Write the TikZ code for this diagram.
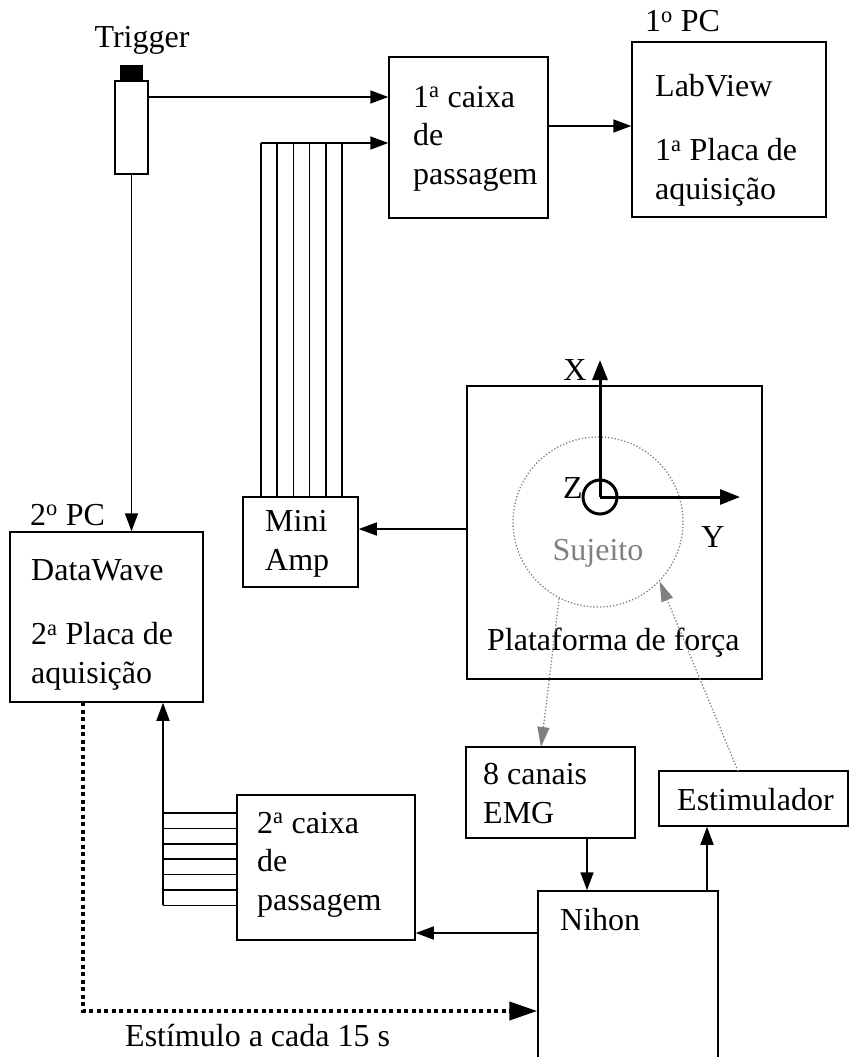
\documentclass[tikz,border=0pt]{standalone}
\usepackage{fontspec}
\setmainfont{Liberation Serif}
\usetikzlibrary{positioning,arrows.meta}

\begin{document}
\begin{tikzpicture}[x=1pt,y=-1pt,
  every node/.style={font=\fontsize{32}{38.5}\selectfont},
  box/.style={draw,line width=1.5pt,inner sep=0pt},
  txt/.style={inner sep=0pt,anchor=base west,align=left},
  arr/.style={line width=1.6pt,-{Triangle[length=18pt,width=13pt]}},
  garr/.style={gray,dotted,line width=1.3pt,-{Triangle[length=20pt,width=12pt]}},
  axis/.style={line width=3pt,-{Triangle[length=20pt,width=15pt]}}]
  \useasboundingbox (0,0) rectangle (861,1057);

  % trigger
  \node[inner sep=0pt] (trigtxt) at (142,40) {Trigger};
  \node[box,fill=black,minimum width=21pt,minimum height=15pt] (cap) at (131.5,73.5) {};
  \node[box,minimum width=33pt,minimum height=93pt] (trig) at (131.5,127.5) {};

  % boxes
  \node[box,minimum width=159pt,minimum height=161pt] (caixa1) at (468.5,137.5) {};
  \node[box,minimum width=194pt,minimum height=175pt] (pc1) at (729,129.5) {};
  \node[box,minimum width=295pt,minimum height=293pt] (plat) at (614.5,532.5) {};
  \node[box,minimum width=115pt,minimum height=90pt] (amp) at (300.5,542) {};
  \node[box,minimum width=193pt,minimum height=170pt] (pc2) at (106.5,617) {};
  \node[box,minimum width=178pt,minimum height=145pt] (caixa2) at (326,867.5) {};
  \node[box,minimum width=169pt,minimum height=91pt] (emg) at (550.5,792.5) {};
  \node[box,minimum width=189pt,minimum height=55pt] (estim) at (753.5,798.5) {};
  \node[box,minimum width=180pt,minimum height=180pt] (nihon) at (628,981) {};

  % texts (anchored on the last line)
  \node[txt] at (645,32) {1\textsuperscript{o} PC};
  \node[txt] at (655,199) {LabView\\[26pt]1\textsuperscript{a} Placa de\\aquisição};
  \node[txt] at (413,184) {1\textsuperscript{a} caixa\\de\\passagem};
  \node[txt] at (30,525) {2\textsuperscript{o} PC};
  \node[txt] at (31,683) {DataWave\\[26pt]2\textsuperscript{a} Placa de\\aquisição};
  \node[txt] at (265,570) {Mini\\Amp};
  \node[txt] at (487,650) {Plataforma de força};
  \node[txt] at (483,823) {8 canais\\EMG};
  \node[txt] at (677,810) {Estimulador};
  \node[txt] at (560,930) {Nihon};
  \node[txt] at (257,910) {2\textsuperscript{a} caixa\\de\\passagem};
  \node[txt] at (125,1046) {Estímulo a cada 15 s};

  % force plate axes and subject
  \node[circle,draw=gray,dotted,line width=1.3pt,minimum size=170pt,inner sep=0pt] (suj) at (598,522) {};
  \node[gray,inner sep=0pt] (sujtxt) at (598,553) {Sujeito};
  \coordinate (o) at (600,497);
  \coordinate (xend) at (600,360);
  \coordinate (yend) at (740,497);
  \draw[axis] (o) -- (xend);
  \draw[axis] (o) -- (yend);
  \draw[line width=3pt] (o) circle (17);
  \node[inner sep=0pt] (xlab) at (575,370) {X};
  \node[inner sep=0pt] (ylab) at (713,537) {Y};
  \node[inner sep=0pt] (zlab) at (573,488) {Z};

  % connectors
  \coordinate (t1) at (148,97);
  \draw[arr] (t1) -- (caixa1.west |- t1);
  \draw[arr] (trig.south) -- (pc2.north -| trig.south);
  \coordinate (c1) at (548,126);
  \draw[arr] (c1) -- (pc1.west |- c1);
  \coordinate (busL) at (261,143);
  \draw[arr] (busL) -- (caixa1.west |- busL);
  \foreach \i in {0,...,5}
    \draw[line width=1.6pt] (261+16.2*\i,143) -- (261+16.2*\i,497);
  \coordinate (p1) at (467,529);
  \draw[arr] (p1) -- (amp.east |- p1);

  % emg / stimulus side
  \draw[garr] (suj.243) -- (541,747);
  \coordinate (s1) at (738,771);
  \draw[garr] (s1) -- (suj.316);
  \coordinate (e1) at (587,838);
  \draw[arr] (e1) -- (nihon.north -| e1);
  \coordinate (n1) at (707,891);
  \draw[arr] (n1) -- (estim.south -| n1);
  \coordinate (n2) at (538,933);
  \draw[arr] (n2) -- (caixa2.east |- n2);

  % second bus
  \foreach \i in {0,...,6}
    \draw[line width=1.6pt] (163,813+15.4*\i) -- (237,813+15.4*\i);
  \coordinate (b2) at (163,905.4);
  \draw[arr] (b2) -- (pc2.south -| b2);

  % stimulus every 15 s
  \coordinate (d1) at (83,702);
  \coordinate (d2) at (83,1011);
  \draw[line width=4pt,dash pattern=on 4pt off 3.5pt,-{Triangle[length=28pt,width=18pt]}]
    (d1) -- (d2) -- (nihon.west |- d2);
\end{tikzpicture}
\end{document}
